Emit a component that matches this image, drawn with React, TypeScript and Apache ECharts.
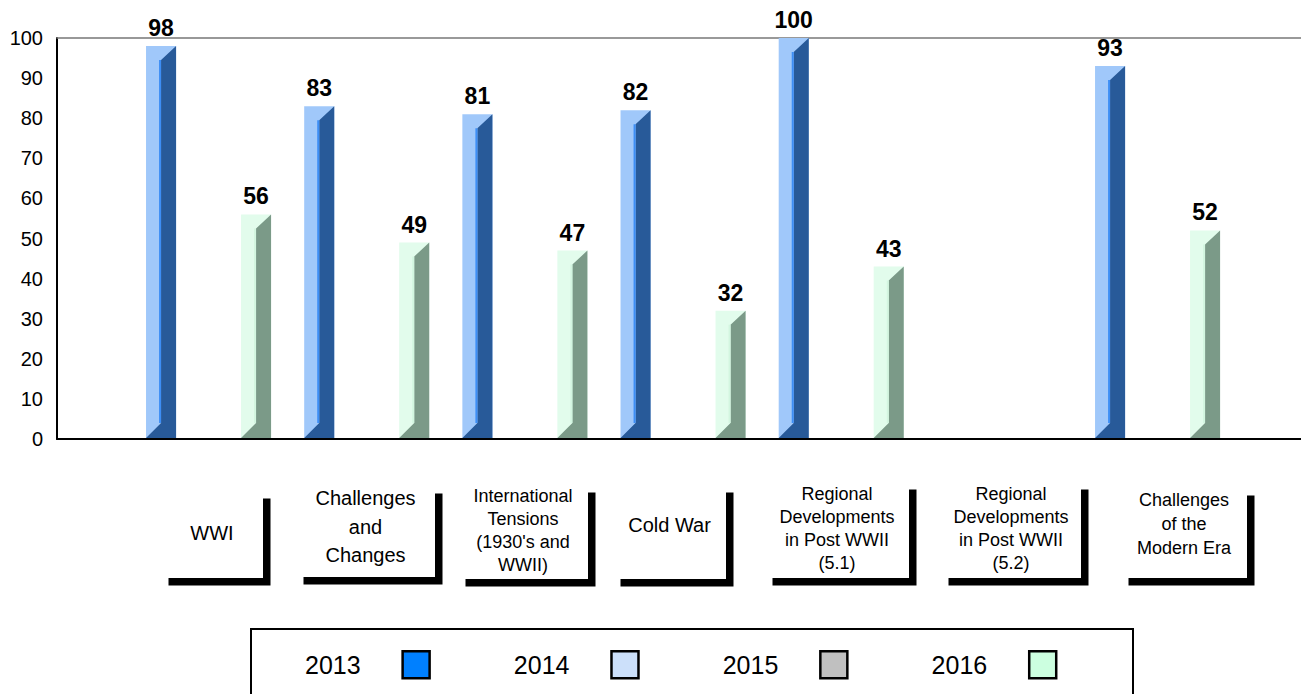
import React, { useEffect, useRef } from "react";
import * as echarts from "echarts";

// ---------- data ----------
const categories: string[] = [
  "WWI",
  "Challenges\nand\nChanges",
  "International\nTensions\n(1930's and\nWWII)",
  "Cold War",
  "Regional\nDevelopments\nin Post WWII\n(5.1)",
  "Regional\nDevelopments\nin Post WWII\n(5.2)",
  "Challenges\nof the\nModern Era",
];
const seriesNames: string[] = ["2013", "2014", "2015", "2016"];
const values2013: (number | null)[] = [null, null, null, null, null, null, null];
const values2014: (number | null)[] = [98, 83, 81, 82, 100, null, 93];
const values2015: (number | null)[] = [null, null, null, null, null, null, null];
const values2016: (number | null)[] = [56, 49, 47, 32, 43, null, 52];
const yMin = 0;
const yMax = 100;
const yInterval = 10;

// ---------- styles / layout ----------
const FONT = '"Liberation Sans", Arial, Helvetica, sans-serif';
const seriesStyles = [
  { legend: "#0080ff", front: "#66b3ff", side: "#0059b3", sep: "#3399ff" },
  { legend: "#cce0fa", front: "#a0c8fa", side: "#285a99", sep: "#3d8ef5" },
  { legend: "#c0c0c0", front: "#d9d9d9", side: "#808080", sep: "#bfbfbf" },
  { legend: "#ccffe0", front: "#e2fcec", side: "#7b9a88", sep: "#d3f6e0" },
];
const slotStep = 0.3003; // fraction of a category unit between series slots
const barFrac = 0.19; // bar width as fraction of a category unit
const labelBoxes = [
  { x: 161, y: 491, w: 102, h: 87, ty: 533, fs: 20, lh: 24 },
  { x: 296, y: 486, w: 139, h: 91, ty: 526.5, fs: 20, lh: 28.5 },
  { x: 458, y: 485, w: 130, h: 94, ty: 530.5, fs: 18, lh: 23 },
  { x: 613, y: 485, w: 113, h: 94, ty: 525, fs: 20, lh: 24 },
  { x: 765, y: 482, w: 144, h: 96, ty: 528.5, fs: 18, lh: 23 },
  { x: 941, y: 482, w: 140, h: 96, ty: 528.5, fs: 18, lh: 23 },
  { x: 1121, y: 488, w: 126, h: 90, ty: 524, fs: 18, lh: 24 },
];

const allValues = [values2013, values2014, values2015, values2016];

export default function App() {
  const ref = useRef<HTMLDivElement>(null);

  useEffect(() => {
    if (!ref.current) return;
    const chart = echarts.init(ref.current, undefined, { renderer: "svg" });

    const series = seriesNames.map((name, si) => {
      const st = seriesStyles[si];
      const data = allValues[si]
        .map((v, i) => [i, v])
        .filter((d) => d[1] !== null);
      return {
        type: "custom",
        name,
        clip: false,
        itemStyle: { color: st.legend },
        data,
        renderItem: (params: any, api: any) => {
          const ci = api.value(0);
          const v = api.value(1);
          const base = api.coord([ci, 0]);
          const tp = api.coord([ci, v]);
          const unit = api.size([1, 0])[0];
          const cx = base[0] + (si - 1.5) * slotStep * unit;
          const w = barFrac * unit;
          const left = cx - w / 2;
          const right = cx + w / 2;
          const mid = cx;
          const top = tp[1];
          const bottom = base[1] - 1;
          const bt = 14;
          const bb = 15;
          return {
            type: "group",
            children: [
              {
                type: "rect",
                shape: { x: left, y: top, width: w, height: bottom - top },
                style: { fill: st.front },
              },
              {
                type: "polygon",
                shape: {
                  points: [
                    [mid, top + bt],
                    [right, top],
                    [right, bottom],
                    [left, bottom],
                    [mid, bottom - bb],
                  ],
                },
                style: { fill: st.side },
              },
              {
                type: "rect",
                shape: { x: mid - 2, y: top + bt, width: 2, height: bottom - bb - top - bt },
                style: { fill: st.sep },
              },
              {
                type: "text",
                x: cx,
                y: top - 18,
                style: {
                  text: String(v),
                  fill: "#000",
                  font: `bold 23px ${FONT}`,
                  textAlign: "center",
                  textVerticalAlign: "middle",
                },
              },
            ],
          };
        },
      };
    });

    const graphics: any[] = [];
    categories.forEach((name, i) => {
      const b = labelBoxes[i];
      graphics.push({
        type: "group",
        children: [
          {
            type: "rect",
            shape: { x: b.x + 7.5, y: b.y + 7.5, width: b.w, height: b.h },
            style: { fill: "#000" },
          },
          {
            type: "rect",
            shape: { x: b.x, y: b.y, width: b.w, height: b.h },
            style: { fill: "#fff" },
          },
          {
            type: "text",
            x: b.x + b.w / 2,
            y: b.ty,
            style: {
              text: name,
              fill: "#000",
              font: `${b.fs}px ${FONT}`,
              lineHeight: b.lh,
              textAlign: "center",
              textVerticalAlign: "middle",
            },
          },
        ],
      });
    });
    graphics.push({
      type: "rect",
      z: -1,
      shape: { x: 251, y: 629, width: 882, height: 90 },
      style: { fill: "none", stroke: "#000", lineWidth: 2 },
    });

    const xMin = -0.808;
    const xMax = 7.057;

    chart.setOption({
      animation: false,
      backgroundColor: "#fff",
      grid: { left: 57, right: 0, top: 38, bottom: 255, containLabel: false },
      xAxis: [
        {
          type: "value",
          position: "bottom",
          min: xMin,
          max: xMax,
          axisLine: { show: true, onZero: false, lineStyle: { color: "#000", width: 2 } },
          axisTick: { show: false },
          axisLabel: { show: false },
          splitLine: { show: false },
        },
        {
          type: "value",
          position: "top",
          min: xMin,
          max: xMax,
          axisLine: { show: true, onZero: false, lineStyle: { color: "#777", width: 1.5 } },
          axisTick: { show: false },
          axisLabel: { show: false },
          splitLine: { show: false },
        },
      ],
      yAxis: {
        type: "value",
        min: yMin,
        max: yMax,
        interval: yInterval,
        axisLine: { show: true, onZero: false, lineStyle: { color: "#000", width: 2 } },
        axisTick: { show: false },
        splitLine: { show: false },
        axisLabel: { color: "#000", fontSize: 20, fontFamily: FONT, margin: 14 },
      },
      legend: {
        left: 305,
        top: 650,
        padding: 0,
        align: "right",
        orient: "horizontal",
        itemWidth: 27,
        itemHeight: 27,
        itemGap: 83,
        selectedMode: false,
        textStyle: {
          color: "#000",
          fontSize: 25,
          fontFamily: FONT,
          padding: [0, 37, 0, 0],
        },
        data: seriesNames.map((n, i) => ({
          name: n,
          icon: "rect",
          itemStyle: { color: seriesStyles[i].legend, borderColor: "#000", borderWidth: 2.5 },
        })),
      },
      graphic: graphics,
      series,
    });

    return () => chart.dispose();
  }, []);

  return (
    <div
      ref={ref}
      style={{ position: "absolute", left: 0, top: 0, width: 1301, height: 694 }}
    />
  );
}
